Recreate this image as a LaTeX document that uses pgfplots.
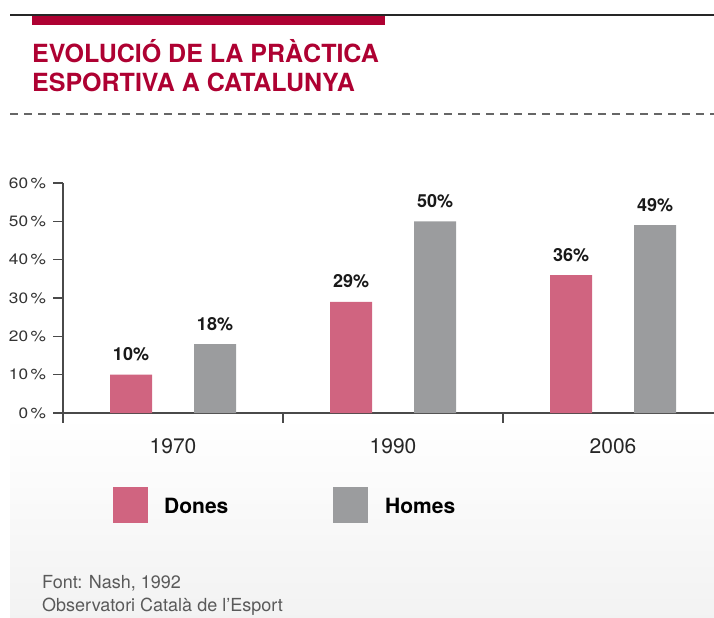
\documentclass[border=0pt]{standalone}
\usepackage{fontspec}
\setmainfont{TeX Gyre Heros}
\newfontfamily\tickfont[FakeStretch=1.15]{TeX Gyre Heros}
\usepackage{pgfplots}
\pgfplotsset{compat=1.18}

\definecolor{crimson}{HTML}{AE0132}
\definecolor{dones}{HTML}{D06480}
\definecolor{homes}{HTML}{9B9C9E}
\definecolor{axisgray}{HTML}{4A4A4A}
\definecolor{footgray}{HTML}{5A5A5A}

\begin{document}
\begin{tikzpicture}[x=1bp,y=1bp]
\path[use as bounding box] (0,0) rectangle (714,-618);
% faint shading under the chart
\shade[top color=white, bottom color=black!5] (10,-416) rectangle (714,-618);
% header
\draw[black!85, line width=2bp] (10,-15) -- (714,-15);
\fill[crimson] (32,-16) rectangle (385,-25);
\node[anchor=base west, inner sep=0, text=crimson, font=\fontsize{25bp}{29bp}\selectfont\bfseries] at (32,-63) {EVOLUCIÓ DE LA PRÀCTICA};
\node[anchor=base west, inner sep=0, text=crimson, font=\fontsize{25bp}{29bp}\selectfont\bfseries] at (32,-92) {ESPORTIVA A CATALUNYA};
\draw[black!60, line width=1.6bp, dash pattern=on 8bp off 6bp] (10,-114) -- (714,-114);

\begin{axis}[
    at={(63bp,-413bp)}, anchor=south west,
    scale only axis, width=651bp, height=230bp,
    xmin=-0.5, xmax=2.459, ymin=0, ymax=60,
    axis x line*=bottom, axis y line*=left,
    axis line style={axisgray, line width=1.3bp},
    tick align=outside, major tick length=9.5bp,
    tick style={axisgray, line width=1.1bp},
    ybar, bar width=42bp,
    xtick={-0.5,0.5,1.5}, xticklabels={},
    extra x ticks={0,1,2},
    extra x tick labels={1970,1990,2006},
    extra x tick style={major tick length=0pt,
        tick label style={font=\fontsize{21bp}{24bp}\selectfont, text=black!85, anchor=base, yshift=-40bp}},
    ytick={0,10,...,60},
    yticklabel={\pgfmathprintnumber{\tick}\,\%},
    /pgf/number format/assume math mode=true,
    yticklabel style={font=\tickfont\fontsize{15bp}{17bp}\selectfont, text=black!80, xshift=-4bp},
    nodes near coords={\pgfmathprintnumber{\pgfplotspointmeta}\%},
    every node near coord/.append style={font=\fontsize{18bp}{20bp}\selectfont\bfseries, text=black!90, anchor=base, yshift=14bp},
    clip=false,
]
\addplot[fill=dones, draw=none, bar shift=-42bp] coordinates {(0,10) (1,29) (2,36)};
\addplot[fill=homes, draw=none, bar shift=42bp] coordinates {(0,18) (1,50) (2,49)};
\end{axis}

% legend
\fill[dones] (113,-487) rectangle (148,-523);
\node[anchor=base west, inner sep=0, font=\fontsize{21bp}{24bp}\selectfont\bfseries] at (164,-513) {Dones};
\fill[homes] (333,-487) rectangle (368,-523);
\node[anchor=base west, inner sep=0, font=\fontsize{21bp}{24bp}\selectfont\bfseries] at (385,-513) {Homes};

% source
\node[anchor=base west, inner sep=0, text=footgray, font=\fontsize{18bp}{20bp}\selectfont] at (42,-588) {Font: Nash, 1992};
\node[anchor=base west, inner sep=0, text=footgray, font=\fontsize{18bp}{20bp}\selectfont] at (42,-611) {Observatori Català de l’Esport};
\end{tikzpicture}
\end{document}
